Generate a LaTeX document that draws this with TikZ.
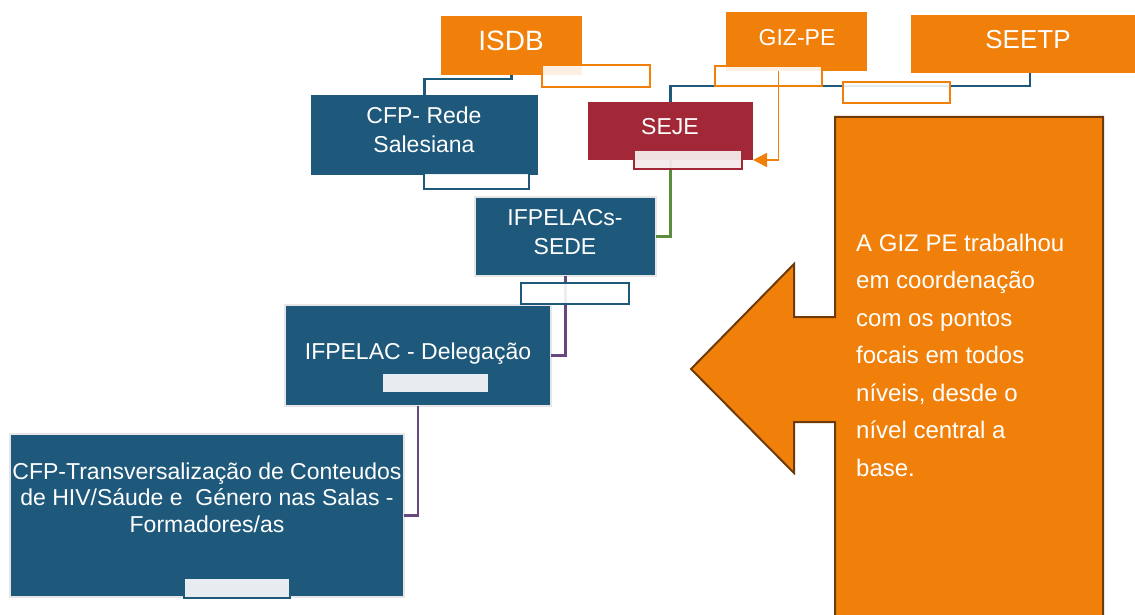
\documentclass[tikz,border=0pt]{standalone}
\usepackage{fontspec}
\setmainfont{Liberation Sans}
\usetikzlibrary{arrows.meta}
\definecolor{orng}{RGB}{240,128,10}
\definecolor{blu}{RGB}{30,89,124}
\definecolor{redb}{RGB}{162,40,56}
\definecolor{brwn}{RGB}{110,58,10}
\definecolor{lgray}{RGB}{230,230,230}
\definecolor{grn}{RGB}{92,140,62}
\definecolor{purp}{RGB}{102,72,126}
\definecolor{pale}{RGB}{231,236,241}
\definecolor{pink}{RGB}{244,234,236}
\newcommand\myfs[2]{\fontsize{#1}{#2}\selectfont}
\begin{document}
\begin{tikzpicture}[x=1pt,y=-1pt,
  box/.style={rectangle, inner sep=0pt, outer sep=0pt, anchor=north west},
  obox/.style={box, fill=orng},
  bbox/.style={box, fill=blu},
  gbbox/.style={bbox, draw=lgray, line width=2.5pt},
  osub/.style={box, fill=white, fill opacity=0.88, draw=orng, draw opacity=1, line width=2.5pt},
  bsub/.style={box, fill=white, fill opacity=0.9, draw=blu, draw opacity=1, line width=2.5pt},
  wtext/.style={text=white, inner sep=0pt, anchor=base},
  bline/.style={draw=blu, line width=2.5pt},
  gline/.style={draw=grn, line width=2.5pt},
  pline/.style={draw=purp, line width=2.5pt},
  oarrow/.style={draw=orng, line width=1.5pt, -{Triangle[length=14pt,width=14pt]}}
]
\useasboundingbox (0,0) rectangle (1135,615);

% big callout arrow
\path[fill=orng, draw=brwn, line width=2pt, line join=miter]
  (835,117) -- (1103,117) -- (1103,625) -- (835,625) -- (835,422) -- (794,422)
  -- (794,473) -- (691,369) -- (794,264) -- (794,317) -- (835,317) -- cycle;
\node[text=white, inner sep=0pt, anchor=base west] (calltext) at (856,251)
  {\myfs{24}{37.5}\begin{tabular}[t]{@{}l@{}}A GIZ PE trabalhou\\em coordenação\\com os pontos\\focais em todos\\níveis, desde o\\nível central a\\base.\end{tabular}};

% main boxes
\node[obox, minimum width=141pt, minimum height=59pt] (isdb) at (441,16) {};
\node[obox, minimum width=141pt, minimum height=59pt] (giz) at (726,12) {};
\node[obox, minimum width=238pt, minimum height=58pt] (seetp) at (911,15) {};
\node[bbox, minimum width=227pt, minimum height=80pt] (cfprede) at (311,95) {};
\node[box, fill=redb, minimum width=165pt, minimum height=58pt] (seje) at (588,102) {};
\node[gbbox, minimum width=181pt, minimum height=79pt] (ifpelacs) at (475,197) {};
\node[gbbox, minimum width=266pt, minimum height=101pt] (deleg) at (285,305) {};
\node[gbbox, minimum width=394pt, minimum height=163pt] (cfpt) at (10,434) {};

% texts
\node[wtext] (isdbt) at (511,51) {\myfs{28}{30}ISDB};
\node[wtext] (gizt) at (797,46) {\myfs{23}{26}GIZ-PE};
\node[wtext] (seetpt) at (1028,49) {\myfs{26}{28}SEETP};
\node[wtext] (sejet) at (670,135) {\myfs{23}{26}SEJE};
\node[wtext] (cfpredet) at (424,124) {\myfs{23}{29}\begin{tabular}[t]{@{}c@{}}CFP- Rede\\Salesiana\end{tabular}};
\node[wtext] (ifpelacst) at (565,225) {\myfs{23}{29}\begin{tabular}[t]{@{}c@{}}IFPELACs-\\SEDE\end{tabular}};
\node[wtext] (delegt) at (418,359) {\myfs{23}{26}IFPELAC - Delegação};
\node[wtext] (cfptt) at (207,479) {\myfs{23}{26.5}\begin{tabular}[t]{@{}c@{}}CFP-Transversalização de Conteudos\\de HIV/Sáude e \ Género nas Salas -\\Formadores/as\end{tabular}};

% connectors
\draw[bline] (isdb.south) -- ++(0,4) -| (cfprede.north);
\draw[bline] (seetp.south) -- ++(0,13) -| (seje.north);
\draw[gline] (seje.south) |- (ifpelacs.east);
\draw[pline] (ifpelacs.south) |- (deleg.east);
\draw[pline] (deleg.south) |- (cfpt.east);

% sub boxes
\node[osub, minimum width=108pt, minimum height=22pt] (isdbsub) at (542,65) {};
\node[osub, minimum width=107pt, minimum height=20pt] (gizsub) at (715,66) {};
\node[osub, minimum width=107pt, minimum height=21pt] (seetpsub) at (843,82) {};
\node[box, fill=pink, fill opacity=0.95, draw=redb, draw opacity=1, line width=2.5pt, minimum width=108pt, minimum height=19pt] (sejesub) at (634,150) {};
\node[bsub, minimum width=105pt, minimum height=16pt] (cfpredesub) at (424,173) {};
\node[bsub, minimum width=108pt, minimum height=21pt] (ifpelacssub) at (521,283) {};
\node[box, fill=pale, minimum width=105pt, minimum height=18pt] (delegsub) at (383,374) {};
\node[box, fill=pale, draw=blu, line width=2pt, minimum width=106pt, minimum height=20pt] (cfptsub) at (184,578) {};

% GIZ arrow to SEJE
\draw[oarrow] ([xshift=-18pt]giz.south) |- (seje.south east);
\end{tikzpicture}
\end{document}
